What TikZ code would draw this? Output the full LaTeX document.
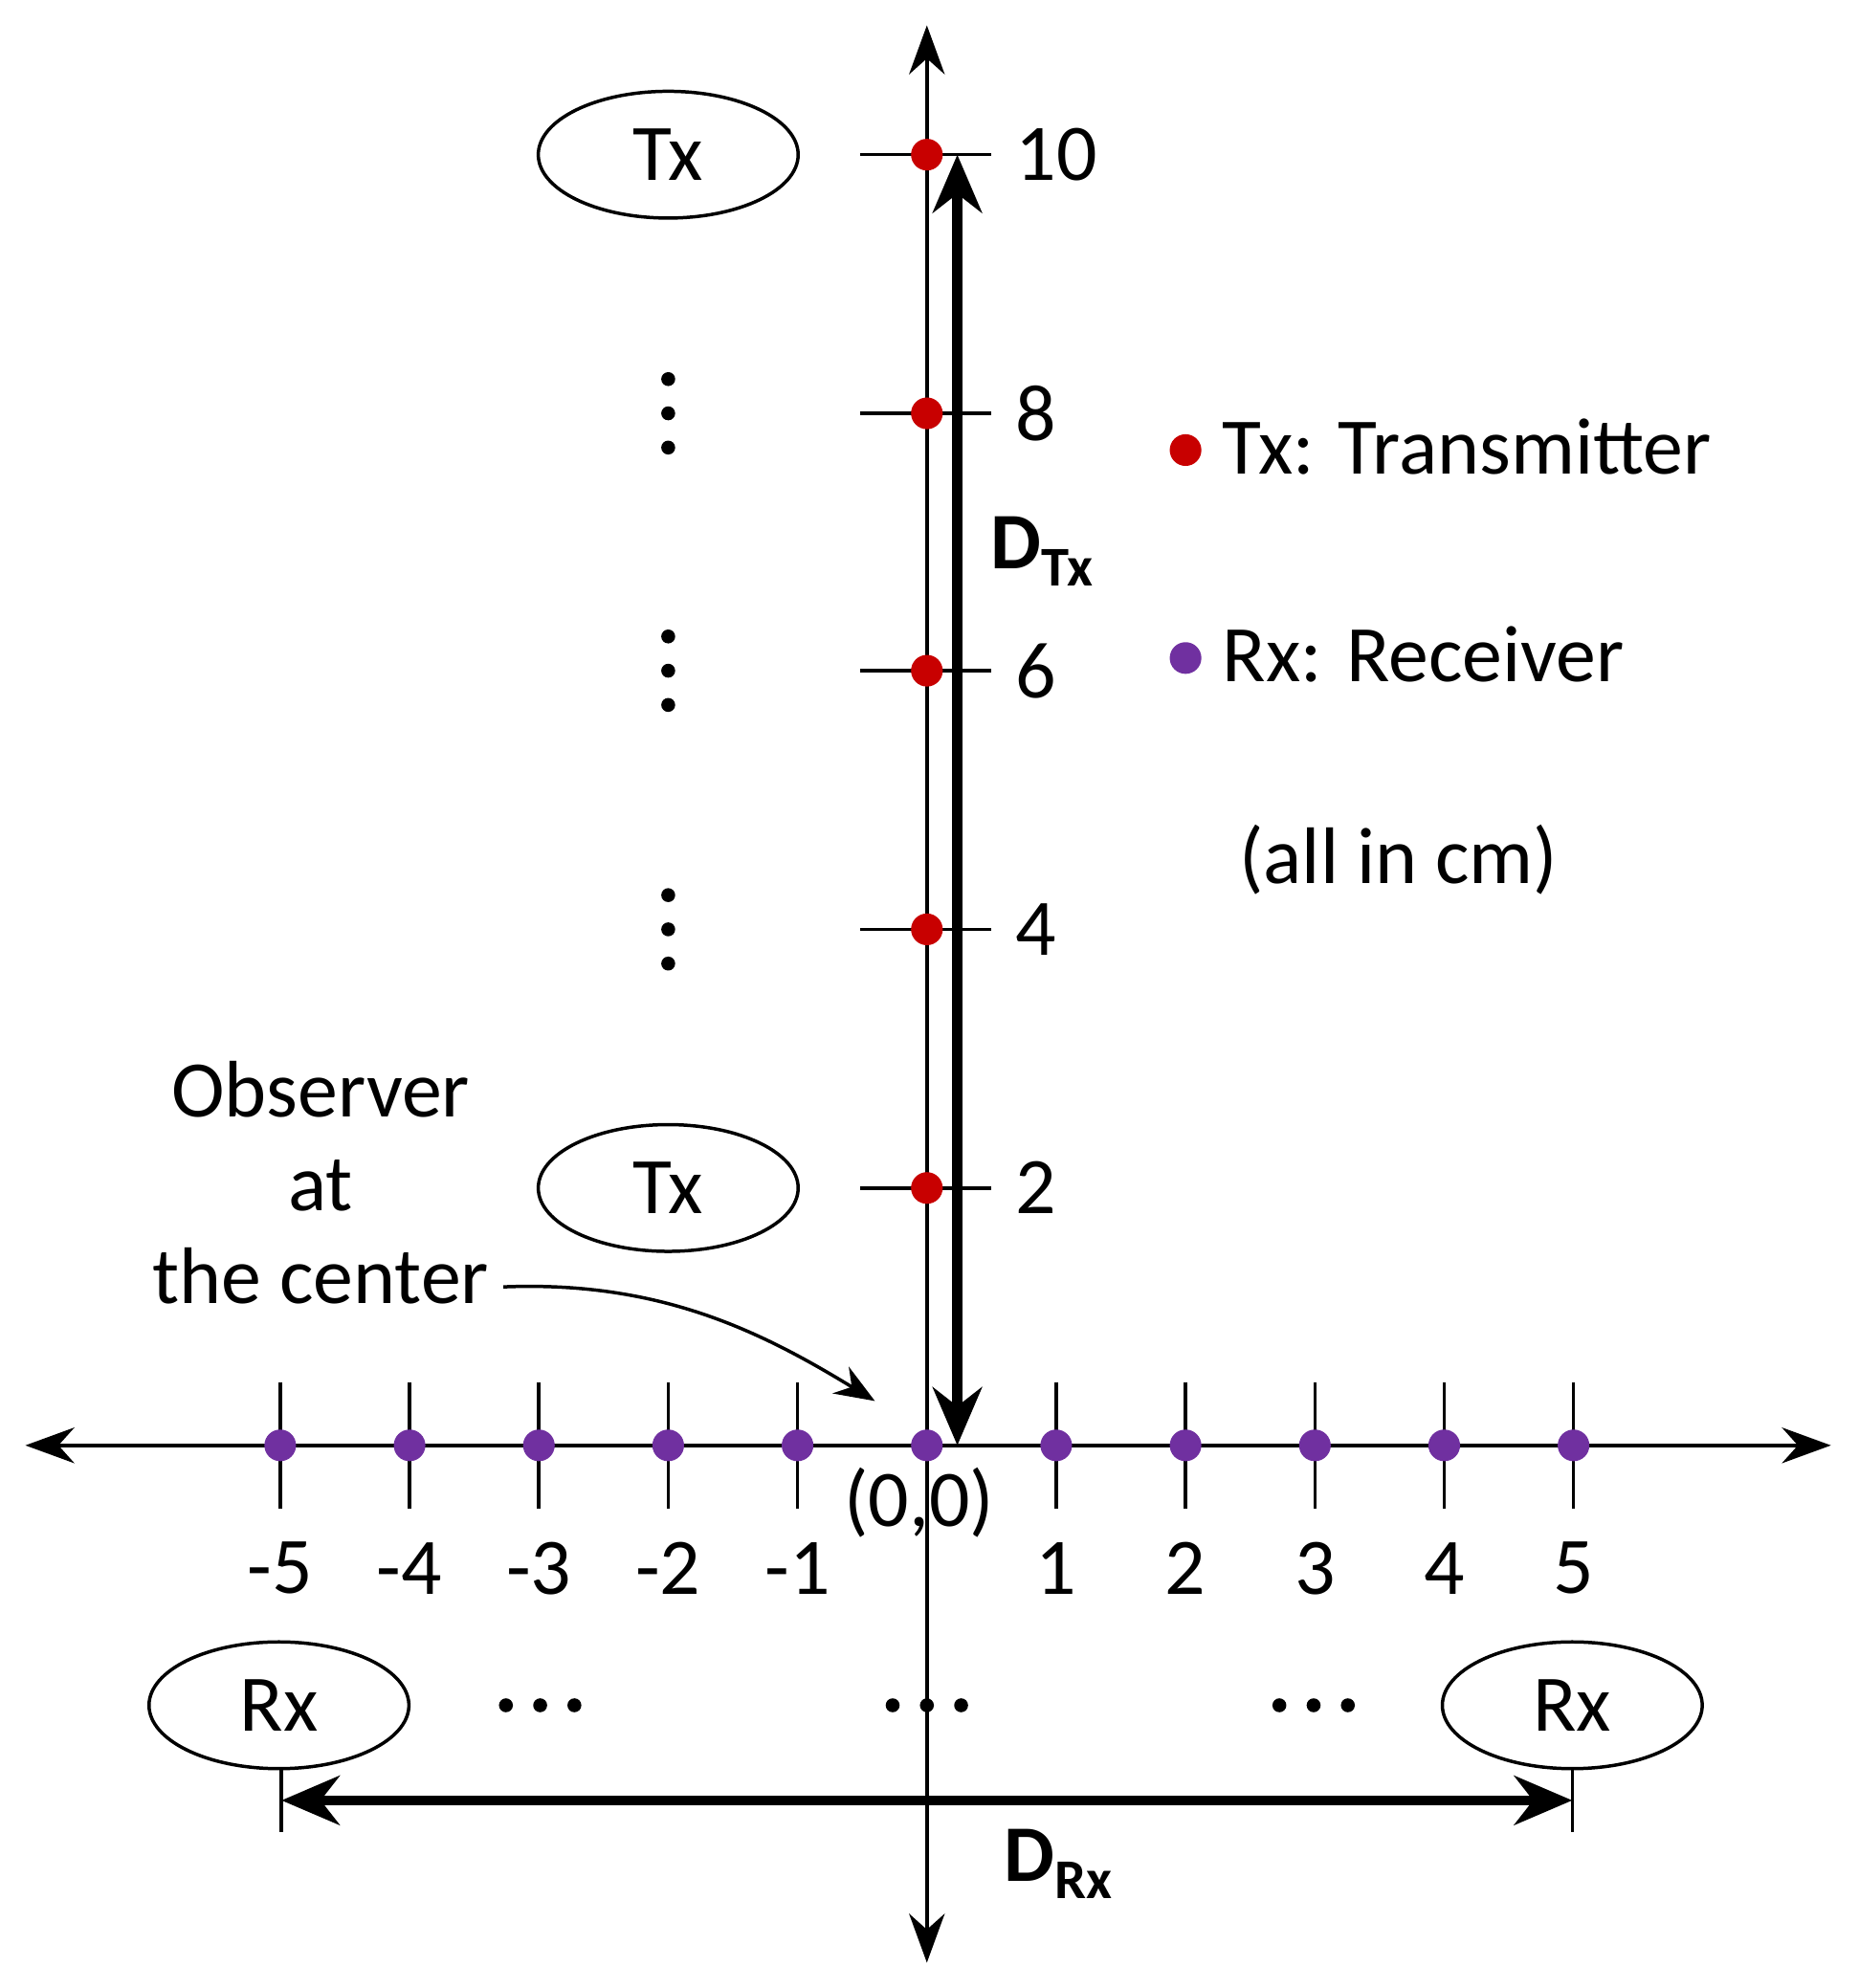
\documentclass[tikz,border=0pt]{standalone}
\usepackage{fontspec}
\setmainfont{Carlito}
\usetikzlibrary{arrows.meta,shapes.geometric}
\definecolor{txred}{RGB}{200,0,0}
\definecolor{rxpur}{RGB}{112,48,160}
\begin{document}
\begin{tikzpicture}[x=0.02cm,y=-0.02cm,
  lbl/.style={font=\fontsize{36}{42}\selectfont},
  ax/.style={line width=1.5pt,-{Stealth[length=22pt,width=16pt]}},
  thick2/.style={line width=4.5pt,{Stealth[length=26pt,width=22pt]}-{Stealth[length=26pt,width=22pt]}},
  ell/.style={draw,line width=1.5pt,ellipse,minimum width=4.1cm,minimum height=2cm,lbl},
  rdot/.style={circle,fill=txred,inner sep=0pt,minimum size=0.5cm},
  pdot/.style={circle,fill=rxpur,inner sep=0pt,minimum size=0.5cm},
  bdot/.style={circle,fill=black,inner sep=0pt,minimum size=0.22cm}]
\useasboundingbox (0,0) rectangle (1466,1568);
\coordinate (o) at (731,1140);
\coordinate (yt) at (731,20); \coordinate (yb) at (731,1548);
\coordinate (xl) at (20,1140); \coordinate (xr) at (1444,1140);
\draw[ax] (o) -- (yt); \draw[ax] (o) -- (yb);
\draw[ax] (o) -- (xl); \draw[ax] (o) -- (xr);
% x ticks
\foreach \k [evaluate=\k as \xx using 731+102*\k] in {-5,...,5}{
  \draw[line width=1.5pt] (\xx,1090) -- (\xx,1190);
  \node[pdot] (p\k) at (\xx,1140) {};
}
\foreach \k [evaluate=\k as \xx using 731+102*\k] in {-5,-4,-3,-2,-1,1,2,3,4,5}{
  \node[lbl] (xl\k) at (\xx,1237) {\k};
}
\node[lbl] (orig) at (725,1185) {(0,0)};
% y ticks
\foreach \v/\yy in {10/122,8/326,6/529,4/733,2/937}{
  \draw[line width=1.5pt] (678,\yy) -- (782,\yy);
  \node[rdot] (r\v) at (731,\yy) {};
  \node[lbl,anchor=west] (yl\v) at (795,\yy) {\v};
}
% Tx / Rx ellipses
\node[ell] (tx1) at (527,122) {Tx};
\node[ell] (tx2) at (527,937) {Tx};
\node[ell] (rx1) at (220,1345) {Rx};
\node[ell] (rx2) at (1240,1345) {Rx};
% dots
\foreach \yy in {326,529,733}{
  \foreach \d in {-27,0,27}{\node[bdot] at (527,\yy+\d) {};}
}
\foreach \xx in {426,731,1036}{
  \foreach \d in {-27,0,27}{\node[bdot] at (\xx+\d,1345) {};}
}
% DTx
\coordinate (dt1) at (755,122); \coordinate (dt2) at (755,1140);
\draw[thick2] (dt1) -- (dt2);
\node[font=\fontsize{36}{42}\selectfont\bfseries] (dtx) at (822,435) {D\textsubscript{Tx}};
% DRx
\coordinate (dr1) at (222,1420); \coordinate (dr2) at (1240,1420);
\draw[line width=1.5pt] (222,1395) -- (222,1445) (1240,1395) -- (1240,1445);
\draw[thick2] (dr1) -- (dr2);
\node[font=\fontsize{36}{42}\selectfont\bfseries] (drx) at (835,1470) {D\textsubscript{Rx}};
% legend
\node[rdot] (lr) at (935,355) {};
\node[lbl,anchor=west] (lrt) at (958,352) {Tx: Transmitter};
\node[pdot] (lp) at (935,519) {};
\node[lbl,anchor=west] (lpt) at (958,516) {Rx: Receiver};
\node[lbl] (cm) at (1103,678) {(all in cm)};
% observer
\node[lbl,align=center,font=\fontsize{36}{40.5}\selectfont] (obs) at (253,933) {Observer\\[0.05cm]at\\[0.05cm]the center};
\coordinate (oa) at (397,1015); \coordinate (ob) at (690,1105);
\draw[line width=1.5pt,-{Stealth[length=18pt,width=14pt]}] (oa) .. controls (520,1010) and (600,1050) .. (ob);
\end{tikzpicture}
\end{document}
